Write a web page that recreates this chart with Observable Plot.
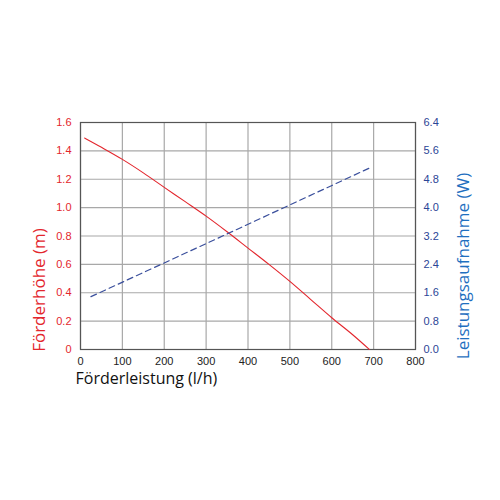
<!DOCTYPE html>
<html>
<head>
<meta charset="utf-8">
<script src="https://cdn.jsdelivr.net/npm/d3@7"></script>
<script src="https://cdn.jsdelivr.net/npm/@observablehq/plot@0.6"></script>
<style>
  html, body { margin: 0; padding: 0; background: #fff; }
  #chart { width: 500px; height: 500px; }
</style>
</head>
<body>
<div id="chart"></div>
<script>
// Förderhöhe (m) vs Förderleistung (l/h)
const headFlow = [10, 50, 100, 150, 200, 250, 300, 350, 400, 450, 500, 550, 600, 650, 690];
const headM    = [1.49, 1.425, 1.34, 1.245, 1.143, 1.042, 0.94, 0.83, 0.715, 0.60, 0.48, 0.352, 0.224, 0.104, 0.0];

// Leistungsaufnahme (W) vs Förderleistung (l/h)
const powerFlow = [25, 356, 689];
const powerW    = [1.49, 3.29, 5.11];

const xTicks = [0, 100, 200, 300, 400, 500, 600, 700, 800];
const yLeftTicks = [0, 0.2, 0.4, 0.6, 0.8, 1.0, 1.2, 1.4, 1.6];
const wPerM = 4; // right axis 0–6.4 W maps onto left axis 0–1.6 m

const xTitle = "Förderleistung (l/h)";
const yLeftTitle = "Förderhöhe (m)";
const yRightTitle = "Leistungsaufnahme (W)";

const headData = headFlow.map((f, i) => ({flow: f, head: headM[i]}));
const powerData = powerFlow.map((f, i) => ({flow: f, w: powerW[i]}));

const RED = "#e3262d";
const BLUE_TICK = "#2b4596";
const BLUE_TITLE = "#1f6fbf";
const tickFont = "'Liberation Sans', Arial, sans-serif";
const titleFont = "'Open Sans', 'Noto Sans', sans-serif";

const chart = Plot.plot({
  width: 500,
  height: 500,
  marginLeft: 80,
  marginRight: 85,
  marginTop: 122,
  marginBottom: 151,
  style: {fontFamily: tickFont, background: "#fff"},
  x: {domain: [0, 800], axis: null},
  y: {domain: [0, 1.6], axis: null},
  marks: [
    Plot.gridX(xTicks, {stroke: "#a8a8a8", strokeOpacity: 1, strokeWidth: 1.2}),
    Plot.gridY(yLeftTicks, {stroke: "#a8a8a8", strokeOpacity: 1, strokeWidth: 1.2}),
    Plot.frame({stroke: "#555", strokeWidth: 1.2}),
    Plot.axisX(xTicks, {anchor: "bottom", tickSize: 0, tickPadding: 8, fontSize: 11, color: "#222", label: null, tickFormat: d => String(d)}),
    Plot.axisY(yLeftTicks, {anchor: "left", tickSize: 0, tickPadding: 9, fontSize: 11, color: RED, label: null,
      tickFormat: d => d === 0 ? "0" : d.toFixed(1)}),
    Plot.axisY(yLeftTicks, {anchor: "right", tickSize: 0, tickPadding: 8, fontSize: 11, color: BLUE_TICK, label: null,
      tickFormat: d => (d * wPerM).toFixed(1)}),
    Plot.line(headData, {x: "flow", y: "head", stroke: RED, strokeWidth: 1.1, curve: "monotone-x"}),
    Plot.line(powerData, {x: "flow", y: d => d.w / wPerM, stroke: "#3a4f9c", strokeWidth: 1.2, strokeDasharray: "6,4"}),
    Plot.text([yLeftTitle], {frameAnchor: "left", textAnchor: "middle", rotate: -90, dx: -41, dy: 54, fontSize: 17, fill: RED, fontFamily: titleFont}),
    Plot.text([yRightTitle], {frameAnchor: "right", textAnchor: "middle", rotate: -90, dx: 48, dy: 30, fontSize: 17, fill: BLUE_TITLE, fontFamily: titleFont}),
    Plot.text([xTitle], {frameAnchor: "bottom-left", textAnchor: "start", dx: -5, dy: 34, fontSize: 16, fill: "#111", fontFamily: titleFont})
  ]
});
document.getElementById("chart").appendChild(chart);
</script>
</body>
</html>
